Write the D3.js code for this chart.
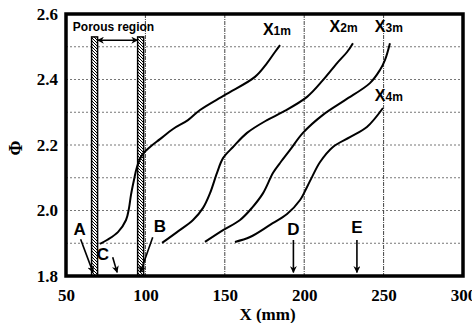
<!DOCTYPE html>
<html>
<head>
<meta charset="utf-8">
<script src="https://cdn.jsdelivr.net/npm/d3@7"></script>
<style>
  html, body { margin: 0; padding: 0; background: #fff; }
  svg { display: block; }
</style>
</head>
<body>
<svg id="chart" width="472" height="323"></svg>
<script>
// Axis ticks
const xTicks = [50, 100, 150, 200, 250, 300];
const yTicks = [1.8, 2.0, 2.2, 2.4, 2.6];
const yGrid = [1.9, 2.0, 2.1, 2.2, 2.3, 2.4, 2.5];
const xGrid = [100, 150, 200, 250];

// Series names
const seriesNames = ["X1m", "X2m", "X3m", "X4m"];

// Phi profiles along X (mm) for each station
const x1 = [[71.4, 1.898], [75.8, 1.910], [82.7, 1.934], [87.8, 1.971], [89.7, 2.008], [90.9, 2.047], [92.8, 2.093], [94.7, 2.133], [97.9, 2.169], [102.9, 2.194], [109.2, 2.218], [117.4, 2.249], [126.8, 2.276], [134.4, 2.307], [150.1, 2.353], [169.0, 2.408], [176.6, 2.450], [181.6, 2.484], [184.8, 2.505]];
const x2 = [[110.5, 1.901], [119.9, 1.934], [130.0, 1.971], [136.3, 2.008], [140.7, 2.053], [145.1, 2.115], [148.9, 2.160], [155.2, 2.194], [164.0, 2.237], [176.6, 2.276], [186.6, 2.301], [201.8, 2.347], [211.8, 2.398], [220.7, 2.450], [227.0, 2.484], [230.7, 2.511]];
const x3 = [[137.5, 1.904], [148.9, 1.940], [159.6, 1.971], [167.1, 2.008], [174.1, 2.053], [180.4, 2.115], [184.8, 2.145], [191.1, 2.185], [199.2, 2.237], [211.8, 2.292], [225.7, 2.337], [241.4, 2.389], [247.7, 2.429], [250.9, 2.460], [254.0, 2.511]];
const x4 = [[156.4, 1.904], [165.9, 1.919], [178.5, 1.956], [189.2, 1.989], [197.4, 2.032], [201.8, 2.072], [204.9, 2.102], [210.0, 2.148], [218.1, 2.194], [228.8, 2.224], [239.5, 2.255], [249.6, 2.313]];

// Series label anchors (X, Phi)
const labelPos = [[174, 2.535], [216, 2.545], [244.5, 2.545], [244.5, 2.335]];

// Porous region walls (X, mm) and their top
const porousWalls = [68, 97];
const porousTop = 2.53;
const porousArrowY = 2.52;

// Marked points: label position and arrow from -> to
const markers = [
  { name: "A", lx: 58.6, ly: 1.925, from: [59.2, 1.912], to: [67.0, 1.811] },
  { name: "B", lx: 109.2, ly: 1.934, from: [104.6, 1.918], to: [96.8, 1.811] },
  { name: "C", lx: 73.2, ly: 1.849, from: [79.4, 1.857], to: [82.2, 1.811] },
  { name: "D", lx: 193.2, ly: 1.925, from: [193.2, 1.910], to: [193.2, 1.811] },
  { name: "E", lx: 233.2, ly: 1.931, from: [233.2, 1.910], to: [233.2, 1.811] }
];

const svg = d3.select("#chart");
const plotL = 66, plotR = 463, plotT = 14, plotB = 276;

const x = d3.scaleLinear().domain([50, 300]).range([plotL, plotR]);
const y = d3.scaleLinear().domain([1.8, 2.6]).range([plotB, plotT]);

const defs = svg.append("defs");
const hatch = defs.append("pattern")
  .attr("id", "hatch").attr("patternUnits", "userSpaceOnUse")
  .attr("width", 3).attr("height", 3);
hatch.append("rect").attr("width", 3).attr("height", 3).attr("fill", "#fff");
hatch.append("path").attr("d", "M-1,-1 L4,4 M-1,2 L1,4 M2,-1 L4,1")
  .attr("stroke", "#000").attr("stroke-width", 1);

function arrowMarker(id, orient) {
  defs.append("marker")
    .attr("id", id).attr("viewBox", "0 0 10 10")
    .attr("refX", 9).attr("refY", 5)
    .attr("markerWidth", 7).attr("markerHeight", 7)
    .attr("markerUnits", "userSpaceOnUse")
    .attr("orient", orient)
    .append("path").attr("d", "M0,0 L10,5 L0,10 L3,5 Z").attr("fill", "#000");
}
arrowMarker("head", "auto");
arrowMarker("headBoth", "auto-start-reverse");

// Grid
const grid = svg.append("g");
grid.selectAll("line.h").data(yGrid).join("line")
  .attr("x1", plotL).attr("x2", plotR)
  .attr("y1", d => y(d)).attr("y2", d => y(d))
  .attr("stroke", "#777").attr("stroke-width", 1)
  .attr("stroke-dasharray", "2,2");
grid.selectAll("line.v").data(xGrid).join("line")
  .attr("x1", d => x(d)).attr("x2", d => x(d))
  .attr("y1", plotT).attr("y2", plotB)
  .attr("stroke", "#444").attr("stroke-width", 1)
  .attr("stroke-dasharray", "4,1,1,1");

// Porous region walls
svg.append("g").selectAll("rect").data(porousWalls).join("rect")
  .attr("x", d => x(d) - 3).attr("width", 6)
  .attr("y", y(porousTop)).attr("height", y(1.8) - y(porousTop))
  .attr("fill", "url(#hatch)").attr("stroke", "#000").attr("stroke-width", 1.5);

svg.append("line")
  .attr("x1", x(porousWalls[0]) + 3).attr("x2", x(porousWalls[1]) - 3)
  .attr("y1", y(porousArrowY)).attr("y2", y(porousArrowY))
  .attr("stroke", "#000").attr("stroke-width", 1.6)
  .attr("marker-start", "url(#headBoth)").attr("marker-end", "url(#headBoth)");

svg.append("text")
  .attr("x", x(54.3)).attr("y", y(2.548))
  .attr("font-family", "Liberation Sans, Arial, sans-serif")
  .attr("font-weight", "bold").attr("font-size", 12)
  .text("Porous region");

// Curves
const line = d3.line()
  .x(d => x(d[0])).y(d => y(d[1]))
  .curve(d3.curveCatmullRom.alpha(0.5));
const series = [x1, x2, x3, x4];
svg.append("g").selectAll("path").data(series).join("path")
  .attr("d", line)
  .attr("fill", "none").attr("stroke", "#000").attr("stroke-width", 2);

// Series labels
const lbl = svg.append("g").selectAll("text").data(seriesNames).join("text")
  .attr("x", (d, i) => x(labelPos[i][0]))
  .attr("y", (d, i) => y(labelPos[i][1]))
  .attr("font-family", "Liberation Sans, Arial, sans-serif")
  .attr("font-weight", "bold");
lbl.append("tspan").attr("font-size", 16).text(d => d[0]);
lbl.append("tspan").attr("font-size", 12)
  .text(d => d.slice(1));

// Point markers
const mk = svg.append("g");
mk.selectAll("line").data(markers).join("line")
  .attr("x1", d => x(d.from[0])).attr("y1", d => y(d.from[1]))
  .attr("x2", d => x(d.to[0])).attr("y2", d => y(d.to[1]))
  .attr("stroke", "#000").attr("stroke-width", 1.6)
  .attr("marker-end", "url(#head)");
mk.selectAll("text").data(markers).join("text")
  .attr("x", d => x(d.lx)).attr("y", d => y(d.ly))
  .attr("text-anchor", "middle")
  .attr("font-family", "Liberation Sans, Arial, sans-serif")
  .attr("font-weight", "bold").attr("font-size", 17)
  .text(d => d.name);

// Frame
svg.append("rect")
  .attr("x", plotL).attr("y", plotT)
  .attr("width", plotR - plotL).attr("height", plotB - plotT)
  .attr("fill", "none").attr("stroke", "#000").attr("stroke-width", 3.5);

// Axes
const xAxis = d3.axisBottom(x).tickValues(xTicks).tickSize(0).tickPadding(13).tickFormat(d3.format("d"));
const gx = svg.append("g").attr("transform", `translate(0,${plotB})`).call(xAxis);
const yAxis = d3.axisLeft(y).tickValues(yTicks).tickSize(0).tickPadding(8).tickFormat(d3.format(".1f"));
const gy = svg.append("g").attr("transform", `translate(${plotL},0)`).call(yAxis);
[gx, gy].forEach(g => {
  g.select(".domain").remove();
  g.selectAll("text")
    .attr("font-family", "Liberation Serif, Times New Roman, serif")
    .attr("font-weight", "bold").attr("font-size", 17).attr("fill", "#000");
});

svg.append("text")
  .attr("x", (plotL + plotR) / 2 + 3).attr("y", 320)
  .attr("text-anchor", "middle")
  .attr("font-family", "Liberation Serif, Times New Roman, serif")
  .attr("font-weight", "bold").attr("font-size", 17)
  .text("X (mm)");

svg.append("text")
  .attr("transform", `translate(22,${(plotT + plotB) / 2 + 3}) rotate(-90)`)
  .attr("text-anchor", "middle")
  .attr("font-family", "Liberation Serif, Times New Roman, serif")
  .attr("font-weight", "bold").attr("font-size", 18)
  .text("Φ");
</script>
</body>
</html>
